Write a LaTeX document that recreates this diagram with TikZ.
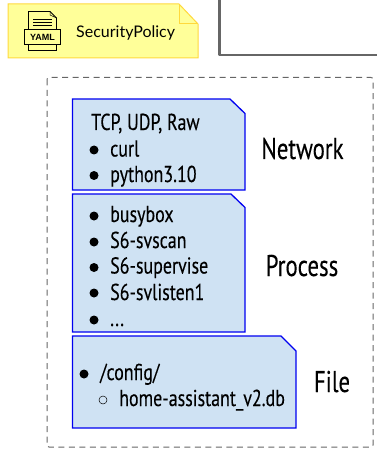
\documentclass[tikz,border=0pt]{standalone}
\usepackage{fontspec}
\setmainfont[FakeStretch=0.78,FakeBold=0.2]{PT Sans}
\newfontfamily\labelfont[FakeStretch=0.76,FakeBold=0.2]{PT Sans}
\newfontfamily\notefont{Lato}
\newfontfamily\iconfont{Liberation Sans}
\usetikzlibrary{calc}
\usetikzlibrary{positioning}
\definecolor{notefill}{HTML}{FFFF99}
\definecolor{noteline}{HTML}{FFD93D}
\definecolor{cardfill}{HTML}{CFE2F3}
\definecolor{cardline}{HTML}{0000F0}
\definecolor{frameline}{HTML}{666666}
\tikzset{>=latex}
\tikzset{
	card/.style={draw=cardline, fill=cardfill, line width=1.3pt, line join=miter},
	item/.style={anchor=base west, inner sep=0pt, font=\fontsize{23}{25}\selectfont},
	dotmark/.style={circle, fill=black, inner sep=0pt, minimum size=9pt},
	ringmark/.style={circle, draw=black, fill=none, line width=0.5pt, inner sep=0pt, minimum size=8pt},
	sidelabel/.style={anchor=base, inner sep=0pt, font=\labelfont\fontsize{30}{32}\selectfont},
}
\begin{document}
\begin{tikzpicture}[x=1pt,y=-1pt]
		\useasboundingbox (0,0) rectangle (376,449);
		% policy note
		\draw[fill=notefill, draw=noteline, line width=1pt] (8,4) -- (179,4) -- (198,24) -- (198,58) -- (8,58) -- cycle;
		\draw[draw=noteline, line width=1pt] (179,4) -- (179,24) -- (198,24);
		\draw[line width=0.8pt, fill=notefill] (28.5,11.5) -- (50,11.5) -- (56.5,18) -- (56.5,50.5) -- (28.5,50.5) -- cycle;
		\draw[line width=0.5pt] (50,11.5) -- (50,15) -- (56.5,18);
		\foreach \i in {19,22,25}
			\draw[line width=0.9pt] (33,\i) -- (52,\i);
		\node[draw, line width=0.8pt, fill=notefill, minimum width=36pt, minimum height=15pt, inner sep=0pt, font=\iconfont\bfseries\fontsize{9}{9}\selectfont] (yaml) at (42.5,37) {YAML};
		\node[anchor=west, inner sep=0pt, font=\notefont\fontsize{16}{18}\selectfont] (policy) at (76,33) {SecurityPolicy};
		% container and outer frame
		\draw[frameline, line width=2.5pt, line join=round] (219.5,-3) -- (219.5,55) -- (380,55);
		\draw[frameline, line width=1pt, dash pattern=on 6pt off 4.5pt, rounded corners=2pt] (47,77.5) rectangle (373,447);
		% cards
		\draw[card] (72.5,99) -- (230,99) -- (245,113.5) -- (245,190) -- (72.5,190) -- cycle;
		\draw[card] (72.5,194) -- (231,194) -- (245,207.5) -- (245,332) -- (72.5,332) -- cycle;
		\draw[card] (72.5,336) -- (281,336) -- (296,351) -- (296,428) -- (72.5,428) -- cycle;
		\node[item] (proto) at (91,130) {TCP, UDP, Raw};
		\foreach \name/\y/\b/\txt in {curl/150/156.5/curl,python/175.5/182/python3.10,busybox/216/222/busybox,svscan/242/248/S6-svscan,supervise/267.5/273.5/S6-supervise,svlisten/293/300/S6-svlisten1,more/320/326/{...}} {
			\node[dotmark] (dot\name) at (94,\y) {};
			\node[item] (\name) at (110,\b) {\txt};
		}
		\node[dotmark] (dotconfig) at (84,374) {};
		\node[item] (config) at (100,380) {/config/};
		\node[ringmark] (ringdb) at (103,400) {};
		\node[item] (db) at (119,406) {home-assistant\_v2.db};
		% labels
		\node[sidelabel] (network) at (302.5,159) {Network};
		\node[sidelabel] (process) at (302,276) {Process};
		\node[sidelabel] (file) at (332,392) {File};
	\end{tikzpicture}
\end{document}
